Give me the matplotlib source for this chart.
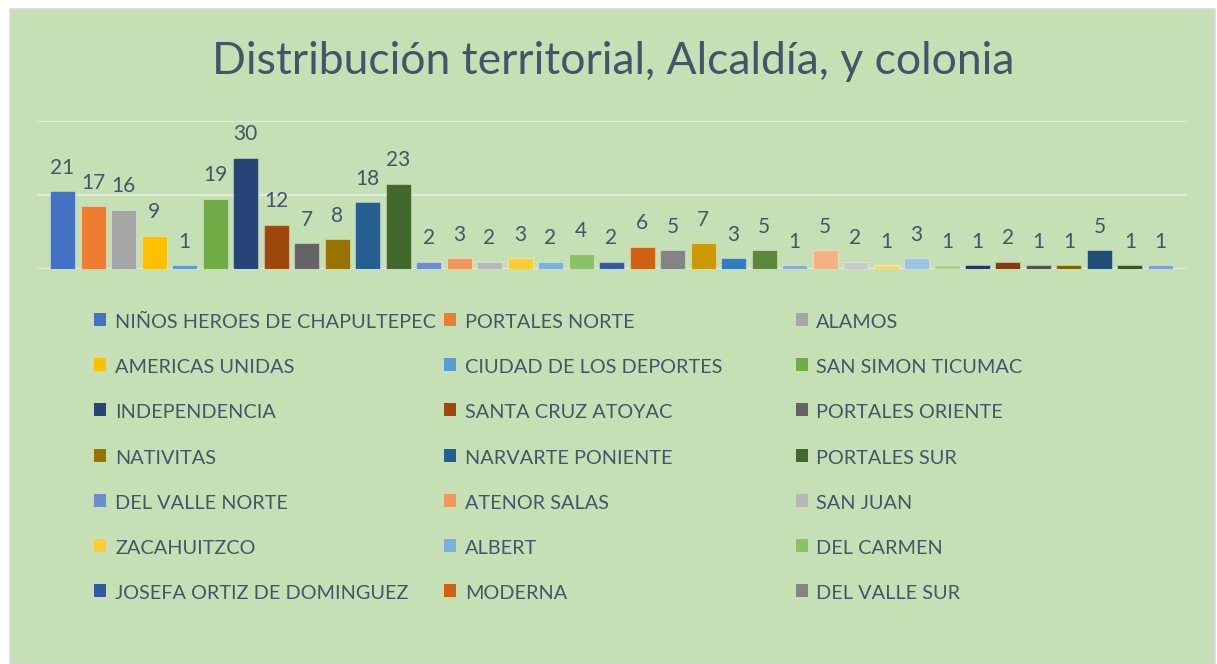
import matplotlib.pyplot as plt
from matplotlib.patches import Rectangle

# Data
colonias = [
    'NIÑOS HEROES DE CHAPULTEPEC', 'PORTALES NORTE', 'ALAMOS',
    'AMERICAS UNIDAS', 'CIUDAD DE LOS DEPORTES', 'SAN SIMON TICUMAC',
    'INDEPENDENCIA', 'SANTA CRUZ ATOYAC', 'PORTALES ORIENTE',
    'NATIVITAS', 'NARVARTE PONIENTE', 'PORTALES SUR',
    'DEL VALLE NORTE', 'ATENOR SALAS', 'SAN JUAN',
    'ZACAHUITZCO', 'ALBERT', 'DEL CARMEN',
    'JOSEFA ORTIZ DE DOMINGUEZ', 'MODERNA', 'DEL VALLE SUR',
]
valores = [21, 17, 16, 9, 1, 19, 30, 12, 7, 8, 18, 23,
           2, 3, 2, 3, 2, 4, 2, 6, 5, 7, 3, 5,
           1, 5, 2, 1, 3, 1, 1, 2, 1, 1, 5, 1, 1]
colores = ['#4472C4', '#ED7D31', '#A5A5A5', '#FFC000', '#5B9BD5', '#70AD47',
           '#264478', '#9E480E', '#636363', '#997300', '#255E91', '#43682B',
           '#698ED0', '#F1975A', '#B7B7B7', '#FFCD33', '#7CAFDD', '#8CC168',
           '#335AA1', '#D26012', '#848484', '#CC9A00', '#327DC2', '#5A8A39',
           '#8FAADC', '#F4B183', '#C9C9C9', '#FFD966', '#9DC3E6', '#A9D18E',
           '#203864', '#843C0C', '#525252', '#7F6000', '#1F4E79', '#375623',
           '#7DA0DA']

W, H = 1217, 664
text_color = '#44546A'
plt.rcParams['font.family'] = ['Lato', 'DejaVu Sans']

fig = plt.figure(figsize=(W / 100, H / 100), dpi=100)
fig.patch.set_facecolor('white')
bg = Rectangle((10 / W, 0), (1215 - 10) / W, (H - 9) / H,
               transform=fig.transFigure, facecolor='#C5E0B4',
               edgecolor='#D6D9DE', linewidth=1.2, zorder=-10)
fig.patches.append(bg)

ax = fig.add_axes([37 / W, 1 - 269 / H, (1187 - 37) / W, (269 - 120.7) / H])
ax.set_facecolor('none')
x = list(range(len(valores)))
ax.bar(x, valores, width=0.82, color=colores,
       edgecolor=(1, 1, 1, 0.35), linewidth=0.8, zorder=3)
for i, v in enumerate(valores):
    ax.annotate(str(v), (i, v), xytext=(0, 12.5), textcoords='offset points',
                ha='center', va='baseline', fontsize=15, color=text_color)

ax.set_xlim(-0.84, 36.87)
ax.set_ylim(0, 40)
ax.set_yticks([0, 20, 40])
ax.set_xticks([])
ax.yaxis.grid(True, color='#E4ECDF', linewidth=1.4, zorder=0)
ax.tick_params(left=False, labelleft=False)
for s in ax.spines.values():
    s.set_visible(False)
ax.set_axisbelow(True)

# Title
fig.text(212 / W, 1 - 74.3 / H, 'Distribución territorial, Alcaldía, y colonia',
         ha='left', va='baseline', fontsize=32, color=text_color)

# Legend (three columns, filled row by row)
marker_x = [94, 444, 796]
label_x = [115, 465, 816]
for k, name in enumerate(colonias):
    r, c = divmod(k, 3)
    base = 328 + 45.2 * r
    fig.patches.append(Rectangle((marker_x[c] / W, 1 - (base - 2) / H), 12 / W, 13 / H,
                                 transform=fig.transFigure, facecolor=colores[k],
                                 edgecolor='none', zorder=2))
    fig.text(label_x[c] / W, 1 - base / H, name, ha='left', va='baseline',
             fontsize=14.3, color=text_color)

fig.savefig('out.png', dpi=100, facecolor=fig.get_facecolor())
